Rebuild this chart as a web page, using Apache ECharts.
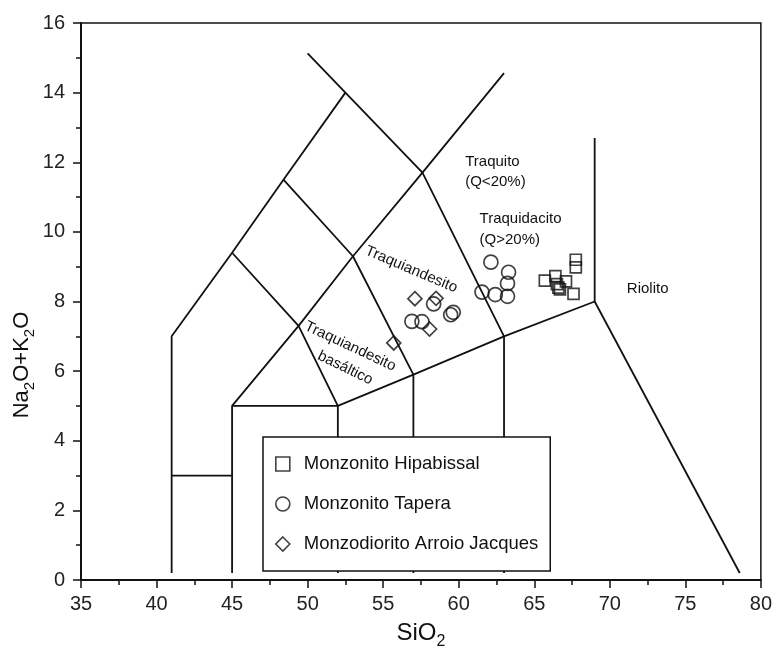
<!DOCTYPE html>
<html>
<head>
<meta charset="utf-8">
<script src="https://cdn.jsdelivr.net/npm/echarts@6/dist/echarts.min.js"></script>
<style>
  html, body { margin: 0; padding: 0; background: #fff; }
  #chart { width: 775px; height: 651px; }
</style>
</head>
<body>
<div id="chart"></div>
<script>
// Sample compositions: [SiO2 wt%, Na2O+K2O wt%]
const hipabissal = [[65.7, 8.6], [66.4, 8.73], [66.5, 8.5], [67.1, 8.58], [66.6, 8.4],
                    [66.7, 8.35], [67.6, 8.22], [67.75, 9.2], [67.75, 8.98]];
const tapera = [[62.13, 9.13], [63.3, 8.84], [63.23, 8.52], [63.23, 8.15], [62.42, 8.2],
                [61.54, 8.27], [58.34, 7.93], [59.47, 7.62], [59.64, 7.69], [56.9, 7.43], [57.57, 7.42]];
const arroioJacques = [[57.1, 8.08], [58.5, 8.09], [58.07, 7.21], [55.7, 6.81]];

const seriesNames = ['Monzonito Hipabissal', 'Monzonito Tapera', 'Monzodiorito Arroio Jacques'];

// TAS field boundaries (polylines in SiO2 / total alkali units)
const boundaries = [
  [[41, 0.2], [41, 7], [45, 9.4], [48.4, 11.5], [52.5, 14]],
  [[45, 0.2], [45, 5], [49.4, 7.3], [53, 9.3], [57.6, 11.7], [63, 14.56]],
  [[41, 3], [45, 3]],
  [[45, 5], [52, 5], [57, 5.9], [63, 7], [69, 8], [69, 12.7]],
  [[52, 0.2], [52, 5]],
  [[57, 0.2], [57, 5.9]],
  [[63, 0.2], [63, 7]],
  [[45, 9.4], [49.4, 7.3], [52, 5]],
  [[48.4, 11.5], [53, 9.3], [57, 5.9]],
  [[50, 15.13], [52.5, 14], [57.6, 11.7], [63, 7]],
  [[69, 8], [78.6, 0.2]]
];

// Field names
const fieldNames = ['Traquito\n(Q<20%)', 'Traquidacito\n(Q>20%)', 'Riolito',
                    'Traquiandesito', 'Traquiandesito', 'basáltico'];

// Anchor (data units), rotation (deg) and alignment of each field name
const fieldLayout = [
  { at: [60.43, 11.73], rot: 0, align: 'left' },
  { at: [61.38, 10.07], rot: 0, align: 'left' },
  { at: [71.13, 8.37], rot: 0, align: 'left' },
  { at: [56.86, 8.92], rot: -23, align: 'center' },
  { at: [52.82, 6.71], rot: -25, align: 'center' },
  { at: [52.49, 6.09], rot: -26, align: 'center' }
];

// Axis titles: [text, isSubscript]
const xTitle = [['SiO', false], ['2', true]];
const yTitle = [['Na', false], ['2', true], ['O+K', false], ['2', true], ['O', false]];

const xTicks = { min: 35, max: 80, interval: 5 };
const yTicks = { min: 0, max: 16, interval: 2 };

const FONT = '"Liberation Sans", Arial, sans-serif';
const INK = '#111';

const chart = echarts.init(document.getElementById('chart'), null, { renderer: 'canvas' });

const lineSeries = boundaries.map(pts => ({
  type: 'line',
  data: pts,
  showSymbol: false,
  symbol: 'none',
  silent: true,
  z: 1,
  lineStyle: { color: INK, width: 1.8 },
  animation: false
}));

const markerStyle = { color: 'transparent', borderColor: INK, borderWidth: 1.7 };

const scatterSeries = [
  { name: seriesNames[0], type: 'scatter', data: hipabissal, symbol: 'rect', symbolSize: 11 },
  { name: seriesNames[1], type: 'scatter', data: tapera, symbol: 'circle', symbolSize: 14 },
  { name: seriesNames[2], type: 'scatter', data: arroioJacques, symbol: 'diamond', symbolSize: 14 }
].map(s => Object.assign(s, { itemStyle: markerStyle, z: 3, animation: false }));

const axisCommon = {
  type: 'value',
  axisLine: { show: true, lineStyle: { color: INK, width: 2 } },
  axisTick: { show: true, inside: false, length: 8, lineStyle: { color: INK, width: 1.5 } },
  minorTick: { show: true, splitNumber: 2, length: 5, lineStyle: { color: INK, width: 1.5 } },
  splitLine: { show: false },
  axisLabel: { fontFamily: FONT, fontSize: 20, color: '#222' }
};

chart.setOption({
  backgroundColor: '#fff',
  animation: false,
  grid: { left: 81, right: 14, top: 23, bottom: 71, show: true, borderColor: INK, borderWidth: 1.5 },
  xAxis: Object.assign({}, axisCommon, xTicks, {
    axisLabel: Object.assign({}, axisCommon.axisLabel, { margin: 14 })
  }),
  yAxis: Object.assign({}, axisCommon, yTicks, {
    axisLabel: Object.assign({}, axisCommon.axisLabel, { margin: 16 })
  }),
  legend: {
    data: seriesNames,
    orient: 'vertical',
    left: 263,
    top: 437,
    itemWidth: 14,
    itemHeight: 14,
    itemGap: 20,
    padding: [17, 12, 17, 12],
    backgroundColor: '#fff',
    borderColor: INK,
    borderWidth: 1.5,
    borderRadius: 0,
    z: 10,
    textStyle: { fontFamily: FONT, fontSize: 18.5, color: INK, lineHeight: 20, padding: [0, 0, 0, 9] },
    itemStyle: { color: 'transparent', borderColor: INK, borderWidth: 1.6 }
  },
  series: lineSeries.concat(scatterSeries)
});

// Builds a text group with lowered subscripts, centred on its origin
const measureCtx = document.createElement('canvas').getContext('2d');
function titleGroup(parts, mainSize, subSize, drop, x, y, rotation) {
  const widths = parts.map(([t, sub]) => {
    measureCtx.font = (sub ? subSize : mainSize) + 'px ' + FONT;
    return measureCtx.measureText(t).width;
  });
  const total = widths.reduce((a, b) => a + b, 0);
  let cursor = -total / 2;
  const children = parts.map(([t, sub], i) => {
    const el = {
      type: 'text',
      x: cursor,
      y: sub ? drop : 0,
      style: {
        text: t,
        fontFamily: FONT,
        fontSize: sub ? subSize : mainSize,
        fill: INK,
        align: 'left',
        verticalAlign: 'middle'
      }
    };
    cursor += widths[i];
    return el;
  });
  return { type: 'group', x: x, y: y, rotation: rotation || 0, z: 20, children: children };
}

const graphics = [];
const xMid = chart.convertToPixel({ gridIndex: 0 }, [(xTicks.min + xTicks.max) / 2, 0]);
graphics.push(titleGroup(xTitle, 24, 16, 9, xMid[0], 633, 0));
graphics.push(titleGroup(yTitle, 22, 15, 8, 22, 365, Math.PI / 2));

fieldNames.forEach((txt, i) => {
  const lay = fieldLayout[i];
  const p = chart.convertToPixel({ gridIndex: 0 }, lay.at);
  graphics.push({
    type: 'text',
    x: p[0],
    y: p[1],
    rotation: lay.rot * Math.PI / 180,
    style: {
      text: txt,
      fontFamily: FONT,
      fontSize: 15,
      lineHeight: 20.5,
      fill: INK,
      align: lay.align,
      verticalAlign: 'middle'
    },
    z: 5
  });
});

chart.setOption({ graphic: graphics });
</script>
</body>
</html>
